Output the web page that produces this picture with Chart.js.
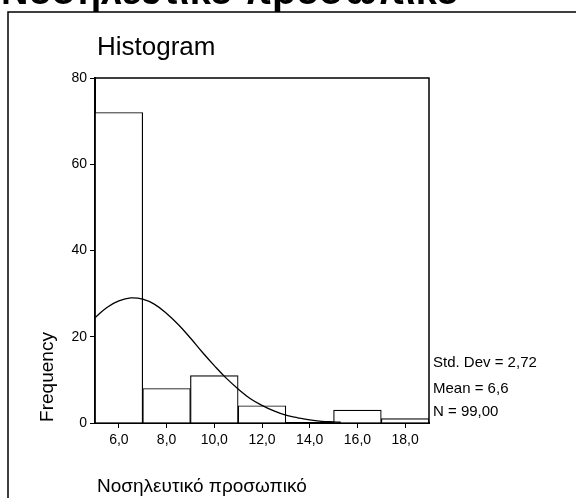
<!DOCTYPE html>
<html>
<head>
<meta charset="utf-8">
<script src="https://cdn.jsdelivr.net/npm/chart.js@4"></script>
<style>
  html, body { margin: 0; padding: 0; background: #fff; }
  #wrap { width: 576px; height: 498px; position: relative; }
</style>
</head>
<body>
<div id="wrap"><canvas id="hist"></canvas></div>
<script>
// histogram bins (centres) and counts
const binCenters = [6, 8, 10, 12, 14, 16, 18];
const frequencies = [72, 8, 11, 4, 0, 3, 1];

// fitted normal curve
const curveX = [5, 5.5, 6, 6.5, 7, 7.5, 8, 8.5, 9, 9.5, 10, 10.5, 11, 11.5, 12, 12.5, 13, 13.5, 14, 14.5, 15, 15.3];
const curveY = [24.4, 26.8, 28.3, 29.0, 28.7, 27.5, 25.4, 22.8, 19.7, 16.4, 13.3, 10.4, 7.9, 5.7, 4.1, 2.8, 1.8, 1.2, 0.7, 0.4, 0.25, 0.17];

const xTicks = [6, 8, 10, 12, 14, 16, 18];
const xTickLabels = ["6,0", "8,0", "10,0", "12,0", "14,0", "16,0", "18,0"];
const yTicks = [0, 20, 40, 60, 80];

const statsLines = ["Std. Dev = 2,72", "Mean = 6,6", "N = 99,00"];

const FONT = "Arial, 'Liberation Sans', sans-serif";

const extras = {
  id: "extras",
  afterDraw(chart) {
    const ctx = chart.ctx;
    const a = chart.chartArea;
    ctx.save();
    // outer frame
    ctx.strokeStyle = "#000";
    ctx.lineWidth = 1.5;
    ctx.strokeRect(8, 12, 700, 700);

    // plot box (top + right)
    ctx.lineWidth = 1.5;
    ctx.beginPath();
    ctx.moveTo(a.left, a.top);
    ctx.lineTo(a.right, a.top);
    ctx.lineTo(a.right, a.bottom);
    ctx.stroke();

    ctx.fillStyle = "#000";
    // cut-off heading
    ctx.font = "bold 38px " + FONT;
    ctx.textBaseline = "alphabetic";
    ctx.textAlign = "left";
    ctx.fillText("Νοσηλευτικό προσωπικό", 1, 4);

    ctx.font = "26px " + FONT;
    ctx.fillText("Histogram", 97, 55);

    // axis titles
    ctx.font = "19px " + FONT;
    ctx.textBaseline = "middle";
    ctx.fillText("Νοσηλευτικό προσωπικό", 97, 487);
    ctx.save();
    ctx.translate(48, 377);
    ctx.rotate(-Math.PI / 2);
    ctx.textAlign = "center";
    ctx.fillText("Frequency", 0, 0);
    ctx.restore();

    // stats
    ctx.font = "15px " + FONT;
    ctx.textAlign = "left";
    const ys = [363, 389, 412];
    statsLines.forEach((t, i) => ctx.fillText(t, 433, ys[i]));
    ctx.restore();
  }
};

new Chart(document.getElementById("hist"), {
  type: "bar",
  data: {
    datasets: [
      {
        type: "line",
        data: curveX.map((x, i) => ({ x: x, y: curveY[i] })),
        borderColor: "#000",
        borderWidth: 1.3,
        pointRadius: 0,
        tension: 0.4,
        fill: false,
        order: 0
      },
      {
        type: "bar",
        data: binCenters.map((x, i) => ({ x: x, y: frequencies[i] })),
        backgroundColor: "#fff",
        borderColor: "#000",
        borderWidth: 1.2,
        barPercentage: 1,
        categoryPercentage: 1,
        order: 1
      }
    ]
  },
  options: {
    responsive: true,
    maintainAspectRatio: false,
    animation: false,
    layout: { padding: { top: 78, right: 147, left: 0, bottom: 0 } },
    plugins: {
      legend: { display: false },
      tooltip: { enabled: false }
    },
    scales: {
      x: {
        type: "linear",
        min: 5,
        max: 19,
        offset: false,
        afterFit(scale) { scale.height = 75; },
        afterBuildTicks(scale) { scale.ticks = xTicks.map(v => ({ value: v })); },
        grid: { offset: false, drawOnChartArea: false, drawTicks: true, tickLength: 5, color: "#000", lineWidth: 1 },
        border: { color: "#000", width: 2 },
        ticks: {
          padding: 4,
          maxRotation: 0,
          autoSkip: false,
          color: "#000",
          font: { family: FONT, size: 14 },
          callback: (v, i) => xTickLabels[i]
        }
      },
      y: {
        min: 0,
        max: 80,
        afterFit(scale) { scale.width = 95; },
        afterBuildTicks(scale) { scale.ticks = yTicks.map(v => ({ value: v })); },
        grid: { drawOnChartArea: false, drawTicks: true, tickLength: 5, color: "#000", lineWidth: 1 },
        border: { color: "#000", width: 2 },
        ticks: {
          padding: 3,
          color: "#000",
          font: { family: FONT, size: 14 },
          callback: v => String(v)
        }
      }
    }
  },
  plugins: [extras]
});
</script>
</body>
</html>
